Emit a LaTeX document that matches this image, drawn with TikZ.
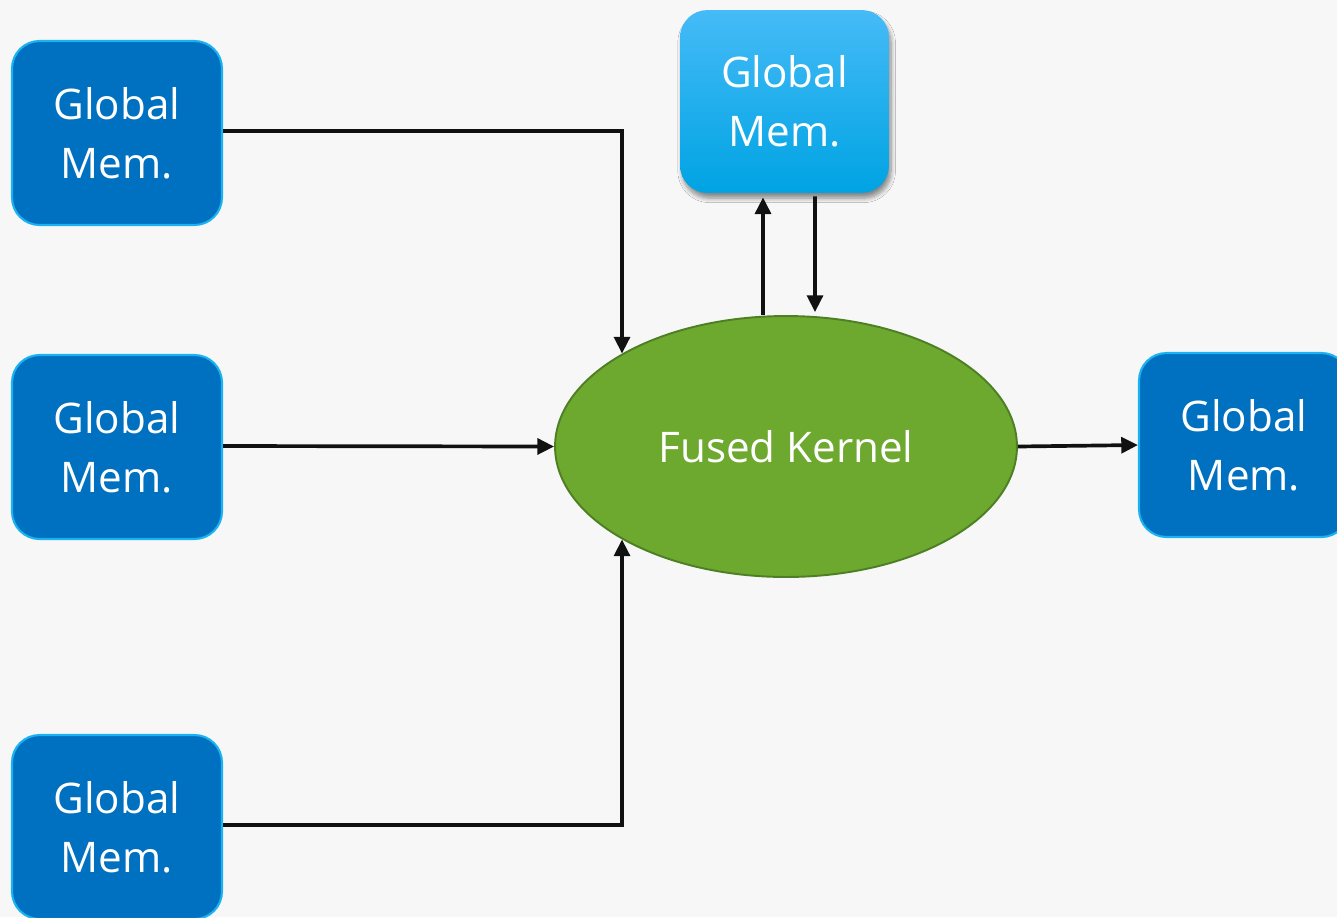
\documentclass[tikz,border=0pt]{standalone}
\usepackage{fontspec}
\setmainfont{Open Sans}
\usetikzlibrary{arrows.meta,shapes.geometric,shadows.blur,calc}

\definecolor{pagebg}{HTML}{F7F7F7}
\definecolor{memfill}{HTML}{0070C0}
\definecolor{memedge}{HTML}{1AB2F0}
\definecolor{memtop}{HTML}{45BBF7}
\definecolor{memmid}{HTML}{00B4F7}
\definecolor{membot}{HTML}{00A3E3}
\definecolor{kernfill}{HTML}{6DA92E}
\definecolor{kernedge}{HTML}{4F7F24}
\definecolor{wire}{HTML}{111111}

\tikzset{
  memtext/.style={text=white, align=center, font=\fontsize{24}{33.5}\selectfont},
  membox/.style={memtext, rectangle, rounded corners=0.55cm, fill=memfill,
    draw=memedge, line width=1.2pt, minimum width=4.2cm, minimum height=3.68cm, inner sep=0pt},
  memboxlit/.style={memtext, rectangle, rounded corners=0.55cm,
    top color=memtop, middle color=memmid, bottom color=membot, draw=none,
    minimum width=4.18cm, minimum height=3.66cm, inner sep=0pt,
    blur shadow={shadow xshift=1.2pt, shadow yshift=-3pt, shadow blur radius=2.5pt,
      shadow blur steps=8, shadow opacity=45}},
  kernel/.style={ellipse, fill=kernfill, draw=kernedge, line width=1.1pt,
    minimum width=9.24cm, minimum height=5.22cm, inner sep=0pt,
    text=white, font=\fontsize{24}{30}\selectfont},
  arr/.style={draw=wire, line width=2.1pt, -{Triangle[length=9.5pt,width=9pt]}}
}

\begin{document}
\begin{tikzpicture}[x=0.02cm, y=-0.02cm]
  \fill[pagebg] (0,0) rectangle (1337,917);
  \useasboundingbox (0,0) rectangle (1337,917);
  \clip (0,0) rectangle (1337,917);

  % memory blocks
  \node[membox] (tl) at (117,133) {Global\\Mem.};
  \node[membox] (ml) at (117,447) {Global\\Mem.};
  \node[membox] (bl) at (117,827) {Global\\Mem.};
  \node[membox] (rt) at (1244,445) {Global\\Mem.};
  \node[memboxlit] (tb) at (784.5,101.5) {Global\\Mem.};

  % the fused kernel
  \node[kernel] (K) at (786,446.5) {Fused Kernel};

  % inputs into the kernel
  \draw[arr] ($(tl.east)+(0,-2)$) -| (K.north west);
  \draw[arr] ($(ml.east)+(0,-1)$) -- (K.west);
  \draw[arr] ($(bl.east)+(0,-2)$) -| (K.south west);

  % round trip with the scratch memory
  \draw[arr] ($(K.north)+(-23,0)$) -- ($(tb.south)+(-21.5,4)$);
  \draw[arr] ($(tb.south)+(30.5,3)$) -- ($(K.north)+(29,-3)$);

  % output
  \draw[arr] (K.east) -- (rt.west);
\end{tikzpicture}
\end{document}
